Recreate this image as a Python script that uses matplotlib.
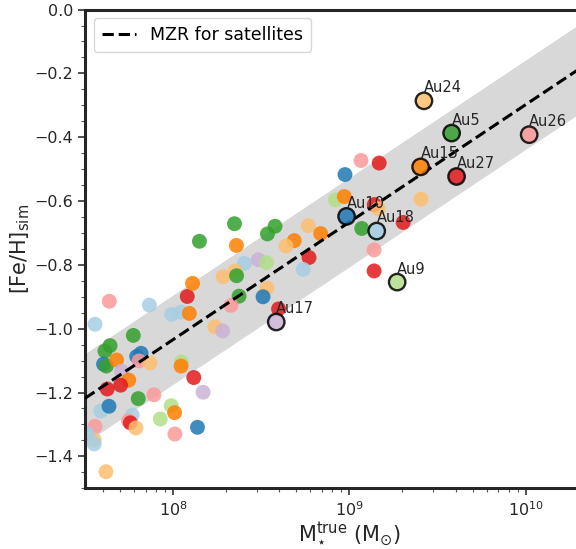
"""
Satellite mass-metallicity relation: [Fe/H]_sim vs true stellar mass,
with the MZR fit and its scatter band, Auriga hosts highlighted.
"""

import matplotlib

matplotlib.use("Agg")
import matplotlib.pyplot as plt
import matplotlib.ticker as mticker
import numpy as np

# ── Data ──────────────────────────────────────────────────────────────────────

# Paired palette, as used per host
PAL = {
    "lb": "#a6cee3", "b": "#1f78b4", "lg": "#b2df8a", "g": "#33a02c",
    "pk": "#fb9a99", "r": "#e31a1c", "lo": "#fdbf6f", "o": "#ff7f00",
    "lp": "#cab2d6",
}

sat_logm = [
    7.557, 7.638, 7.865, 7.991, 8.045, 8.092, 8.080, 8.110, 8.149, 8.348,
    8.359, 8.404, 8.284, 8.351, 8.360, 8.483, 8.530, 8.535, 8.578, 8.767,
    8.687, 8.640, 8.771, 8.738, 8.532, 8.510, 8.374, 8.328, 8.598, 8.237,
    8.281, 7.774, 7.642, 7.613, 7.605, 7.621, 7.679, 7.818, 7.793, 7.807,
    7.869, 7.707, 7.748, 7.626, 7.702, 7.802, 7.891, 7.589, 7.636, 7.768,
    7.747, 7.757, 7.789, 8.047, 8.045, 8.117, 8.170, 7.989, 8.008, 7.927,
    8.010, 8.138, 7.557, 7.552, 7.552, 7.514, 7.619, 9.066, 9.169, 8.975,
    8.921, 8.971, 9.141, 9.164, 9.406, 8.837, 9.070, 9.305, 9.140, 9.140,
]
sat_feh = [
    -0.986, -0.914, -0.926, -0.955, -0.948, -0.952, -0.899, -0.858, -0.726, -0.671,
    -0.739, -0.795, -0.837, -0.819, -0.834, -0.784, -0.793, -0.703, -0.679, -0.677,
    -0.724, -0.741, -0.777, -0.814, -0.873, -0.900, -0.898, -0.927, -0.938, -0.994,
    -1.007, -1.021, -1.053, -1.070, -1.111, -1.117, -1.098, -1.077, -1.087, -1.101,
    -1.107, -1.133, -1.161, -1.189, -1.177, -1.219, -1.207, -1.258, -1.243, -1.271,
    -1.289, -1.295, -1.311, -1.104, -1.117, -1.153, -1.199, -1.241, -1.263, -1.283,
    -1.330, -1.309, -1.306, -1.348, -1.361, -1.330, -1.448, -0.473, -0.481, -0.517,
    -0.596, -0.586, -0.611, -0.624, -0.594, -0.702, -0.686, -0.667, -0.753, -0.819,
]
sat_col = [
    "lb", "pk", "lb", "lb", "lb", "o", "r", "o", "g", "g",
    "o", "lb", "lo", "lo", "g", "lp", "lg", "g", "g", "lo",
    "o", "lo", "r", "lb", "lo", "b", "g", "pk", "r", "lo",
    "lp", "g", "g", "g", "b", "g", "o", "b", "b", "pk",
    "lo", "lp", "o", "r", "r", "g", "pk", "lb", "b", "lb",
    "pk", "r", "lo", "lg", "o", "r", "lp", "lg", "o", "lg",
    "pk", "b", "pk", "lo", "lb", "lb", "lo", "pk", "r", "b",
    "lg", "o", "r", "lo", "lo", "o", "g", "r", "pk", "r",
]

host_names = ["Au24", "Au5", "Au26", "Au15", "Au27", "Au10", "Au18", "Au9", "Au17"]
host_logm = [9.423, 9.580, 10.020, 9.404, 9.608, 8.984, 9.155, 9.271, 8.585]
host_feh = [-0.286, -0.387, -0.392, -0.493, -0.523, -0.648, -0.694, -0.854, -0.979]
host_col = ["lo", "g", "pk", "o", "r", "b", "lb", "lg", "lp"]

# MZR fit: [Fe/H] = MZR_A + MZR_B * (log M - 7.5), scatter +/- MZR_SIG
MZR_A = -1.218
MZR_B = 0.368
MZR_SIG = 0.14

# ── Figure ────────────────────────────────────────────────────────────────────

plt.rcParams["font.family"] = "DejaVu Sans"
plt.rcParams["mathtext.fontset"] = "dejavusans"

fig = plt.figure(figsize=(5.76, 5.49), dpi=100)
ax = fig.add_axes([0.1476, 0.1106, 0.918, 0.872])

xlo, xhi = 7.5, 10.5
lgrid = np.linspace(xlo, xhi, 50)
mzr = MZR_A + MZR_B * (lgrid - 7.5)
ax.fill_between(10**lgrid, mzr - MZR_SIG, mzr + MZR_SIG,
                color="gray", alpha=0.3, lw=0, zorder=1)

ax.scatter(10**np.array(sat_logm), sat_feh, s=115,
           c=[PAL[k] for k in sat_col], alpha=0.85, lw=0, zorder=2)

ax.plot(10**lgrid, mzr, ls="--", color="black", lw=2.2, zorder=3,
        label="MZR for satellites")

ax.scatter(10**np.array(host_logm), host_feh, s=140,
           c=[PAL[k] for k in host_col], alpha=0.85,
           edgecolors="black", linewidths=1.7, zorder=4)
for name, lm, fe in zip(host_names, host_logm, host_feh):
    ax.annotate(name, (10**lm, fe), xytext=(0, 4), textcoords="offset points",
                ha="left", va="bottom", fontsize=10.5, color="#262626", zorder=5)

ax.set_xscale("log")
ax.set_xlim(10**xlo, 10**xhi)
ax.set_ylim(-1.5, 0.0)
ax.yaxis.set_major_locator(mticker.MultipleLocator(0.2))
ax.yaxis.set_minor_locator(mticker.MultipleLocator(0.05))

ax.set_xlabel(r"$\mathrm{M}_{\star}^{\mathrm{true}}$ $(\mathrm{M}_{\odot})$",
              fontsize=15, color="#262626", labelpad=1)
ax.set_ylabel(r"[Fe/H]$_{\mathrm{sim}}$", fontsize=15, color="#262626",
              labelpad=2)

for sp in ax.spines.values():
    sp.set_linewidth(2.2)
    sp.set_color("#262626")
ax.tick_params(which="major", length=5, width=1.2, labelsize=11.5,
               colors="#333333", labelcolor="#262626")
ax.tick_params(which="minor", length=3, width=0.8, colors="#555555")

ax.legend(loc="upper left", fontsize=12.5, frameon=True, fancybox=True,
          edgecolor="#cccccc", handlelength=2.0, borderpad=0.45)

fig.savefig("out.png", dpi=100)
